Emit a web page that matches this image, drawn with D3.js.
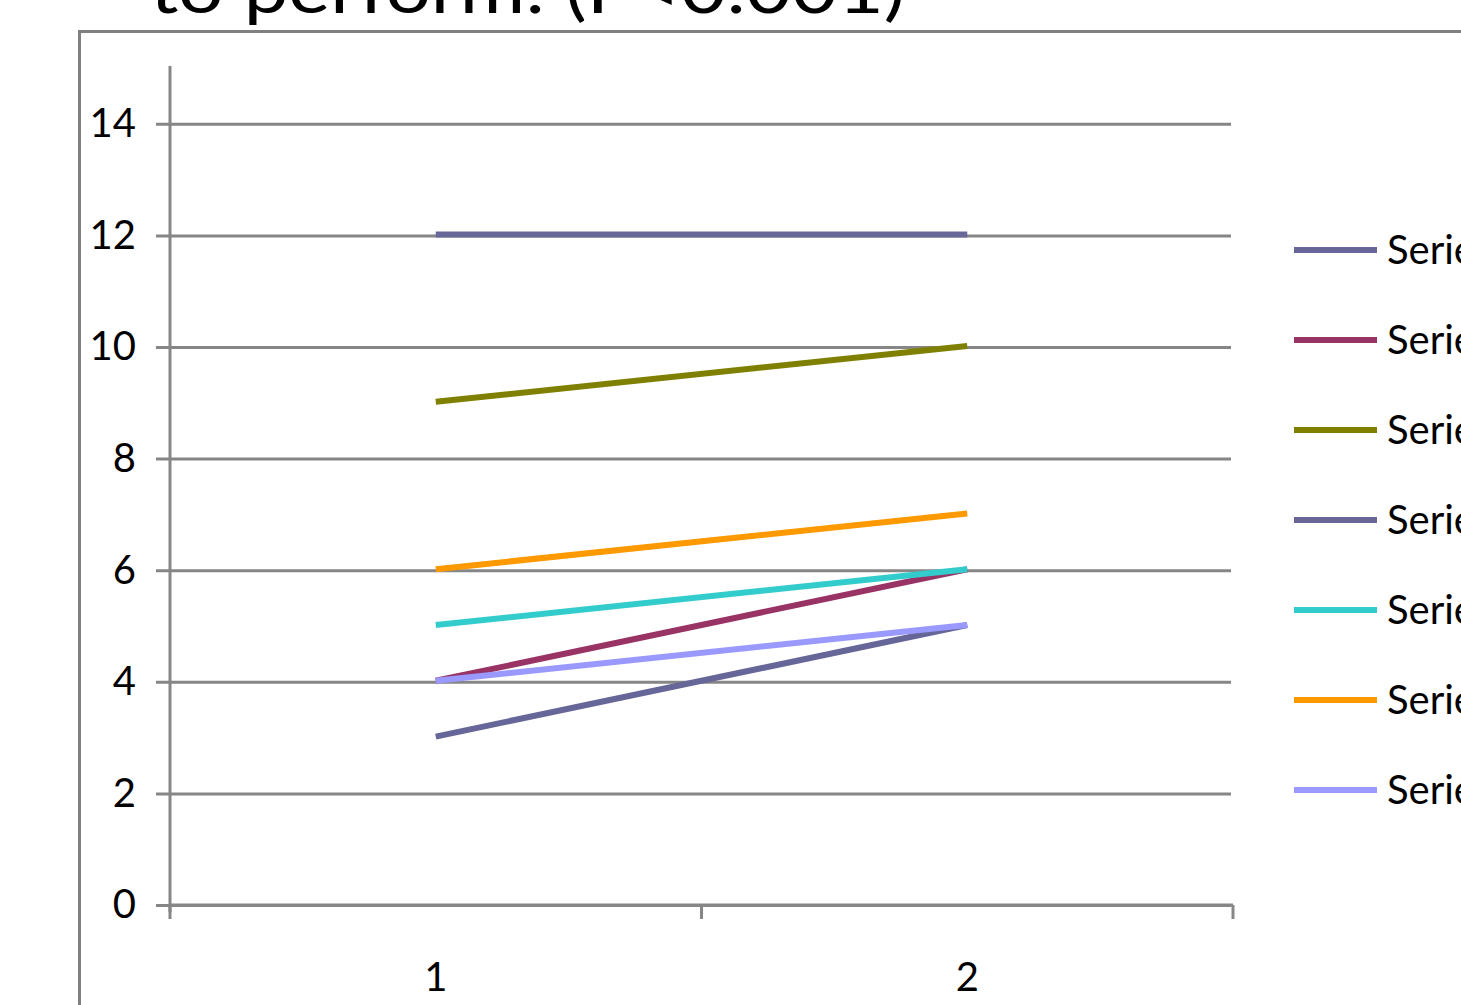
<!DOCTYPE html>
<html>
<head>
<meta charset="utf-8">
<script src="https://cdn.jsdelivr.net/npm/d3@7"></script>
<style>
  body { margin: 0; background: #fff; }
  svg { display: block; }
  text { font-family: Lato, "Open Sans", sans-serif; fill: #000; }
</style>
</head>
<body>
<div id="chart"></div>
<script>
const categories = ["1", "2"];
const seriesNames = ["Series1", "Series2", "Series3", "Series4", "Series5", "Series6", "Series7"];
const seriesValues = [
    [12, 12],
    [4, 6],
    [9, 10],
    [3, 5],
    [5, 6],
    [6, 7],
    [4, 5]
];
const seriesColors = ["#666699", "#993366", "#808000", "#666699", "#33cccc", "#ff9900", "#9999ff"];
const yTicks = [0, 2, 4, 6, 8, 10, 12, 14];
const titleText = "to perform: (P<0.001)";

const width = 1461;
const height = 1005;
const axisColor = "#868686";

const svg = d3.select("#chart")
    .append("svg")
    .attr("width", width)
    .attr("height", height);

// title, cut off at top like the source
svg.append("text")
    .attr("x", 150)
    .attr("y", 13)
    .attr("font-size", 68)
    .attr("textLength", 755)
    .attr("lengthAdjust", "spacingAndGlyphs")
    .text(titleText);

// outer chart frame (runs past the right and bottom edges)
svg.append("rect")
    .attr("x", 79.5)
    .attr("y", 31.5)
    .attr("width", 1500)
    .attr("height", 1100)
    .attr("fill", "none")
    .attr("stroke", "#808080")
    .attr("stroke-width", 3);

const y = d3.scaleLinear().domain([0, 15]).range([905, 68]);
const x = d3.scaleBand().domain(categories).range([170, 1233]);

// gridlines + y labels
const yAxis = svg.append("g")
    .attr("transform", "translate(156,0)")
    .call(d3.axisLeft(y).tickValues(yTicks).tickSize(-1075).tickPadding(20));
yAxis.select(".domain").remove();
yAxis.selectAll(".tick line")
    .attr("stroke", axisColor)
    .attr("stroke-width", 3);
yAxis.selectAll(".tick text")
    .attr("font-size", 40)
    .attr("font-family", "Lato, sans-serif")
    .attr("fill", "#000");

// y axis line
svg.append("line")
    .attr("x1", 170).attr("x2", 170)
    .attr("y1", y(15) - 2).attr("y2", y(0) + 7)
    .attr("stroke", axisColor)
    .attr("stroke-width", 3);

// x axis line and boundary ticks
svg.append("line")
    .attr("x1", 170).attr("x2", 1233)
    .attr("y1", y(0)).attr("y2", y(0))
    .attr("stroke", axisColor)
    .attr("stroke-width", 3);

const bounds = categories.map(c => x(c)).concat([x(categories[categories.length - 1]) + x.bandwidth()]);
svg.selectAll(".xtick")
    .data(bounds)
    .enter()
    .append("line")
    .attr("class", "xtick")
    .attr("x1", d => d).attr("x2", d => d)
    .attr("y1", y(0)).attr("y2", y(0) + 14)
    .attr("stroke", axisColor)
    .attr("stroke-width", 3);

const xAxis = svg.append("g")
    .attr("transform", `translate(0,${y(0)})`)
    .call(d3.axisBottom(x).tickSize(0).tickPadding(58));
xAxis.select(".domain").remove();
xAxis.selectAll(".tick text")
    .attr("font-size", 40)
    .attr("font-family", "Lato, sans-serif")
    .attr("fill", "#000");

// series lines
const line = d3.line()
    .x((d, i) => x(categories[i]) + x.bandwidth() / 2)
    .y(d => y(d) - 1);

svg.selectAll(".series")
    .data(seriesValues)
    .enter()
    .append("path")
    .attr("class", "series")
    .attr("d", d => line(d))
    .attr("fill", "none")
    .attr("stroke", (d, i) => seriesColors[i])
    .attr("stroke-width", 6);

// legend
const legend = svg.selectAll(".legend")
    .data(seriesNames)
    .enter()
    .append("g")
    .attr("class", "legend")
    .attr("transform", (d, i) => `translate(1294,${250 + i * 90})`);

legend.append("line")
    .attr("x1", 0).attr("x2", 83)
    .attr("stroke", (d, i) => seriesColors[i])
    .attr("stroke-width", 6);

legend.append("text")
    .attr("x", 93)
    .attr("dy", "0.35em")
    .attr("font-size", 40)
    .text(d => d);
</script>
</body>
</html>
